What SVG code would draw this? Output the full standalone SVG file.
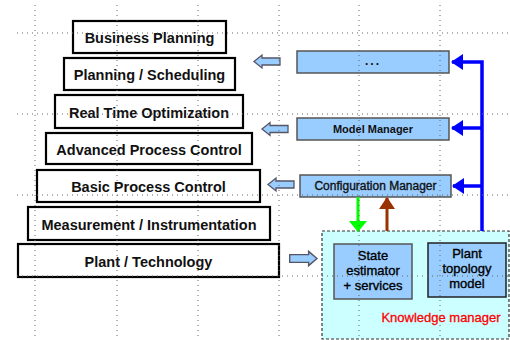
<svg xmlns="http://www.w3.org/2000/svg" width="510" height="340" viewBox="0 0 510 340">
  <style>
    .layer rect { fill: none; stroke: #000; stroke-width: 2.2; }
    .layer text { font-family: "Liberation Sans", Arial, sans-serif; font-weight: bold; font-size: 14.5px; fill: #111; text-anchor: middle; }
    .mgr rect { fill: #99CCFF; stroke: #555; stroke-width: 1.5; }
    .mgr text { font-family: "Liberation Sans", Arial, sans-serif; fill: #111; text-anchor: middle; }
    .km text { font-family: "Liberation Sans", Arial, sans-serif; font-size: 13px; fill: #000; stroke: #000; stroke-width: 0.35; text-anchor: middle; }
    .semi { stroke: #111; stroke-width: 0.35; }
    .grid line { stroke: #666; stroke-width: 1; stroke-dasharray: 1 4; }
    .blk { fill: #99CCFF; stroke: #556; stroke-width: 1.3; }
    .wire { fill: none; }
  </style>
  <defs>
    <marker id="headBlue" markerUnits="userSpaceOnUse" markerWidth="12" markerHeight="16" refX="11" refY="8" orient="auto">
      <path d="M0,0 L12,8 L0,16 Z" fill="#0000FF"/>
    </marker>
    <marker id="headGreen" markerUnits="userSpaceOnUse" markerWidth="11" markerHeight="18" refX="10" refY="9" orient="auto">
      <path d="M0,0 L11,9 L0,18 Z" fill="#00FF00"/>
    </marker>
    <marker id="headBrown" markerUnits="userSpaceOnUse" markerWidth="12" markerHeight="16" refX="11" refY="8" orient="auto">
      <path d="M0,0 L12,8 L0,16 Z" fill="#993300"/>
    </marker>
    <!-- hollow block arrow pointing left, tip at origin -->
    <path id="blockArrow" class="blk" d="M0,0 L8,-6.5 L8,-3.5 L26,-3.5 L26,3.5 L8,3.5 L8,6.5 Z"/>
  </defs>

  <rect width="510" height="340" fill="#fff"/>

  <!-- automation pyramid -->
  <g id="business-planning" class="layer">
    <rect x="73" y="21" width="153" height="32"/>
    <text x="149.5" y="43">Business Planning</text>
  </g>
  <g id="planning-scheduling" class="layer">
    <rect x="64" y="58" width="171" height="32"/>
    <text x="149.5" y="80">Planning / Scheduling</text>
  </g>
  <g id="real-time-optimization" class="layer">
    <rect x="55" y="95" width="188" height="33"/>
    <text x="149" y="117.5">Real Time Optimization</text>
  </g>
  <g id="advanced-process-control" class="layer">
    <rect x="46" y="133" width="206" height="31"/>
    <text x="149" y="154.5">Advanced Process Control</text>
  </g>
  <g id="basic-process-control" class="layer">
    <rect x="37" y="170" width="223" height="32"/>
    <text x="148.5" y="192">Basic Process Control</text>
  </g>
  <g id="measurement-instrumentation" class="layer">
    <rect x="28" y="207" width="242" height="33"/>
    <text x="149" y="229.5">Measurement / Instrumentation</text>
  </g>
  <g id="plant-technology" class="layer">
    <rect x="18" y="244" width="261" height="33"/>
    <text x="148.5" y="266.5">Plant / Technology</text>
  </g>

  <!-- manager modules -->
  <g id="upper-manager" class="mgr">
    <rect x="297" y="51" width="152" height="22"/>
    <text x="373" y="65" font-size="12" font-weight="bold" letter-spacing="2">...</text>
  </g>
  <g id="model-manager" class="mgr">
    <rect x="297" y="118" width="152" height="22"/>
    <text x="373" y="133" font-size="11" font-weight="bold">Model Manager</text>
  </g>
  <g id="configuration-manager" class="mgr">
    <rect x="300" y="175" width="151" height="22"/>
    <text class="semi" x="375.5" y="190" font-size="12">Configuration  Manager</text>
  </g>

  <!-- knowledge manager container -->
  <g id="knowledge-manager" class="km">
    <rect x="322" y="231" width="187" height="108" fill="#CCFFFF" stroke="#333" stroke-width="1.2" stroke-dasharray="3 2"/>
    <text x="441" y="322" font-size="13.5" style="fill:#FF0000;stroke:#FF0000;stroke-width:0.3">Knowledge manager</text>
  </g>
  <g id="state-estimator" class="km">
    <rect x="334" y="244" width="78" height="55" fill="#99CCFF" stroke="#555" stroke-width="1.5"/>
    <text x="373" y="260">State</text>
    <text x="373" y="275">estimator</text>
    <text x="373" y="290">+ services</text>
  </g>
  <g id="plant-topology-model" class="km">
    <rect x="428" y="243" width="78" height="54" fill="#99CCFF" stroke="#222" stroke-width="1.5"/>
    <text x="467" y="258">Plant</text>
    <text x="467" y="273">topology</text>
    <text x="467" y="288">model</text>
  </g>

  <!-- connectors -->
  <g id="connectors">
    <use href="#blockArrow" x="254" y="61.5"/>
    <use href="#blockArrow" x="262" y="129"/>
    <use href="#blockArrow" x="268" y="184.5"/>
    <use href="#blockArrow" transform="translate(317,258.5) scale(-1.05,1.1)"/>
    <path class="wire" d="M482,231 V62 H452" stroke="#0000FF" stroke-width="3.5" marker-end="url(#headBlue)"/>
    <path class="wire" d="M482,128 H452" stroke="#0000FF" stroke-width="3.5" marker-end="url(#headBlue)"/>
    <path class="wire" d="M482,186 H453" stroke="#0000FF" stroke-width="3.5" marker-end="url(#headBlue)"/>
    <path class="wire" d="M358,197 V231" stroke="#00FF00" stroke-width="3" marker-end="url(#headGreen)"/>
    <path class="wire" d="M387,231 V198" stroke="#993300" stroke-width="3" marker-end="url(#headBrown)"/>
  </g>

  <!-- dotted background grid -->
  <g class="grid">
    <line x1="35" y1="5" x2="35" y2="340"/>
    <line x1="117" y1="5" x2="117" y2="340"/>
    <line x1="198" y1="5" x2="198" y2="340"/>
    <line x1="279" y1="5" x2="279" y2="340"/>
    <line x1="359" y1="5" x2="359" y2="340"/>
    <line x1="440" y1="5" x2="440" y2="340"/>
    <line x1="17" y1="33" x2="510" y2="33"/>
    <line x1="17" y1="114" x2="510" y2="114"/>
    <line x1="17" y1="195" x2="510" y2="195"/>
    <line x1="17" y1="276" x2="510" y2="276"/>
  </g>
</svg>
